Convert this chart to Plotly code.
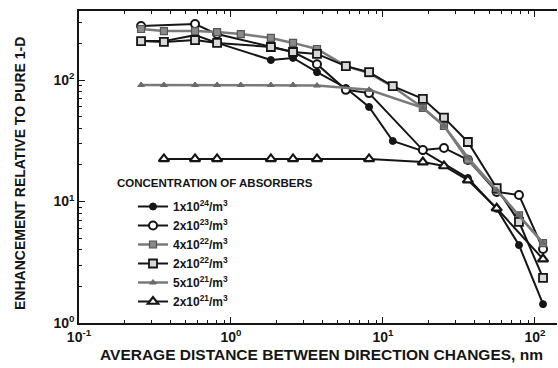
import plotly.graph_objects as go

# ---- data ----
names = ["1x10<sup>24</sup>/m<sup>3</sup>", "2x10<sup>23</sup>/m<sup>3</sup>",
         "4x10<sup>22</sup>/m<sup>3</sup>", "2x10<sup>22</sup>/m<sup>3</sup>",
         "5x10<sup>21</sup>/m<sup>3</sup>", "2x10<sup>21</sup>/m<sup>3</sup>"]

x_1e24 = [0.256, 0.362, 0.58, 0.81, 1.83, 2.56, 3.68, 5.7, 8.1, 11.6, 18.3, 36.2, 56, 78.5, 113]
y_1e24 = [209, 209, 234, 202, 146, 152, 116, 86, 60, 31.5, 26, 15.6, 8.7, 4.38, 1.43]

x_2e23 = [0.256, 0.58, 0.81, 1.83, 2.56, 3.68, 5.7, 8.1, 18.3, 25.2, 36.2, 56, 78.5, 113]
y_2e23 = [278, 289, 239, 187, 170, 135, 83, 78, 26.5, 27.6, 22, 12, 11.3, 4.06]

x_4e22 = [0.256, 0.362, 0.58, 0.81, 1.16, 1.83, 2.56, 3.68, 5.7, 8.1, 11.6, 18.3, 25.2, 36.2, 56, 78.5, 113]
y_4e22 = [263, 253, 253, 248, 239, 222, 202, 180, 130, 114, 88, 59, 42, 22, 12.4, 7.7, 4.55]

x_2e22 = [0.256, 0.362, 0.58, 0.81, 1.83, 2.56, 3.68, 5.7, 8.1, 11.6, 18.3, 25.2, 36.2, 56, 78.5, 113]
y_2e22 = [209, 206, 213, 202, 187, 170, 164, 130, 116, 89, 70, 49, 30.9, 12.9, 6.8, 2.35]

x_5e21 = [0.256, 0.362, 0.58, 0.81, 1.16, 1.83, 2.56, 3.68, 8.1, 18.3, 25.2, 36.2, 56, 78.5, 113]
y_5e21 = [91, 91, 91, 91, 91, 91, 91, 90, 83, 59, 42, 23, 12.4, 7.7, 4.55]

x_2e21 = [0.362, 0.58, 0.81, 1.83, 2.56, 3.68, 8.1, 18.3, 25.2, 36.2, 56, 113]
y_2e21 = [22.4, 22.4, 22.4, 22.4, 22.4, 22.4, 22.4, 21.1, 19.6, 15.0, 8.8, 3.36]

x_tick_vals = [0.1, 1, 10, 100]
x_tick_text = ["10<sup>-1</sup>", "10<sup>0</sup>", "10<sup>1</sup>", "10<sup>2</sup>"]
y_tick_vals = [1, 10, 100]
y_tick_text = ["10<sup>0</sup>", "10<sup>1</sup>", "10<sup>2</sup>"]

legend_title = "CONCENTRATION OF ABSORBERS"
x_title = "AVERAGE DISTANCE BETWEEN DIRECTION CHANGES, nm"
y_title = "ENHANCEMENT RELATIVE TO PURE 1-D"

BLACK = "#151515"
GRAY = "#7a7a7a"
FONT = "Liberation Sans, Arial, Helvetica, sans-serif"

series = [
    (x_1e24, y_1e24, dict(symbol="circle", size=7, color=BLACK, line=dict(color=BLACK, width=1)), BLACK, 2),
    (x_2e23, y_2e23, dict(symbol="circle", size=8, color="white", line=dict(color=BLACK, width=2)), BLACK, 2),
    (x_4e22, y_4e22, dict(symbol="square", size=7, color="#8a8a8a", line=dict(color="#555555", width=1.2)), GRAY, 2.5),
    (x_2e22, y_2e22, dict(symbol="square", size=8, color="#d8d8d8", line=dict(color=BLACK, width=1.8)), BLACK, 2),
    (x_5e21, y_5e21, dict(symbol="triangle-up", size=6, color="#6a6a6a", line=dict(color="#6a6a6a", width=1)), GRAY, 2.5),
    (x_2e21, y_2e21, dict(symbol="triangle-up", size=9, color="white", line=dict(color=BLACK, width=2.2)), BLACK, 2),
]

fig = go.Figure()
for (xs, ys, mk, lc, lw), nm in zip(series, names):
    fig.add_trace(go.Scatter(x=xs, y=ys, mode="lines+markers", name=nm,
                             line=dict(color=lc, width=lw), marker=mk))

minor_x = [m * 10.0 ** e for e in range(-1, 3) for m in range(2, 10)]
minor_y = [m * 10.0 ** e for e in range(0, 3) for m in range(2, 10)]

tickfont = dict(family=FONT, size=14, color=BLACK, weight="bold")

fig.update_xaxes(type="log", range=[-1, 2.145], tickvals=x_tick_vals, ticktext=x_tick_text,
                 ticks="inside", ticklen=6, tickwidth=1, tickcolor=BLACK,
                 showline=True, linecolor=BLACK, linewidth=1.5, mirror="ticks",
                 showgrid=False, zeroline=False, tickfont=tickfont,
                 minor=dict(tickvals=minor_x, ticks="inside", ticklen=3, tickcolor=BLACK, showgrid=False))
fig.update_yaxes(type="log", range=[0, 2.568], tickvals=y_tick_vals, ticktext=y_tick_text,
                 ticks="inside", ticklen=6, tickwidth=1, tickcolor=BLACK,
                 showline=True, linecolor=BLACK, linewidth=1.5,
                 showgrid=False, zeroline=False, tickfont=tickfont,
                 minor=dict(tickvals=minor_y, ticks="inside", ticklen=3, tickcolor=BLACK, showgrid=False))

W, H = 558, 368
L, R, T, B = 79, 1, 11, 45
pw, ph = W - L - R, H - T - B
def px(xp): return (xp - L) / pw
def py(yp): return (H - B - yp) / ph

fig.update_layout(
    width=W, height=H,
    margin=dict(l=L, r=R, t=T, b=B),
    paper_bgcolor="white", plot_bgcolor="white",
    font=dict(family=FONT, color=BLACK),
    showlegend=True,
    legend=dict(x=px(133), y=py(192), xanchor="left", yanchor="top",
                bgcolor="rgba(0,0,0,0)", borderwidth=0, tracegroupgap=0,
                font=dict(family=FONT, size=12, color=BLACK, weight="bold"),
                itemwidth=30),
    annotations=[
        dict(text=legend_title, x=px(115), y=py(183), xref="paper", yref="paper",
             showarrow=False, xanchor="left", yanchor="middle",
             font=dict(family=FONT, size=11.5, color=BLACK, weight="bold")),
        dict(text=x_title, x=px(98), y=py(354),
             xref="paper", yref="paper", showarrow=False, xanchor="left", yanchor="middle",
             font=dict(family=FONT, size=15.5, color=BLACK, weight="bold")),
        dict(text=y_title, x=px(20), y=py(174), textangle=-90,
             xref="paper", yref="paper", showarrow=False, xanchor="center", yanchor="middle",
             font=dict(family=FONT, size=14, color=BLACK, weight="bold")),
    ],
)

fig.write_html("out.html")
